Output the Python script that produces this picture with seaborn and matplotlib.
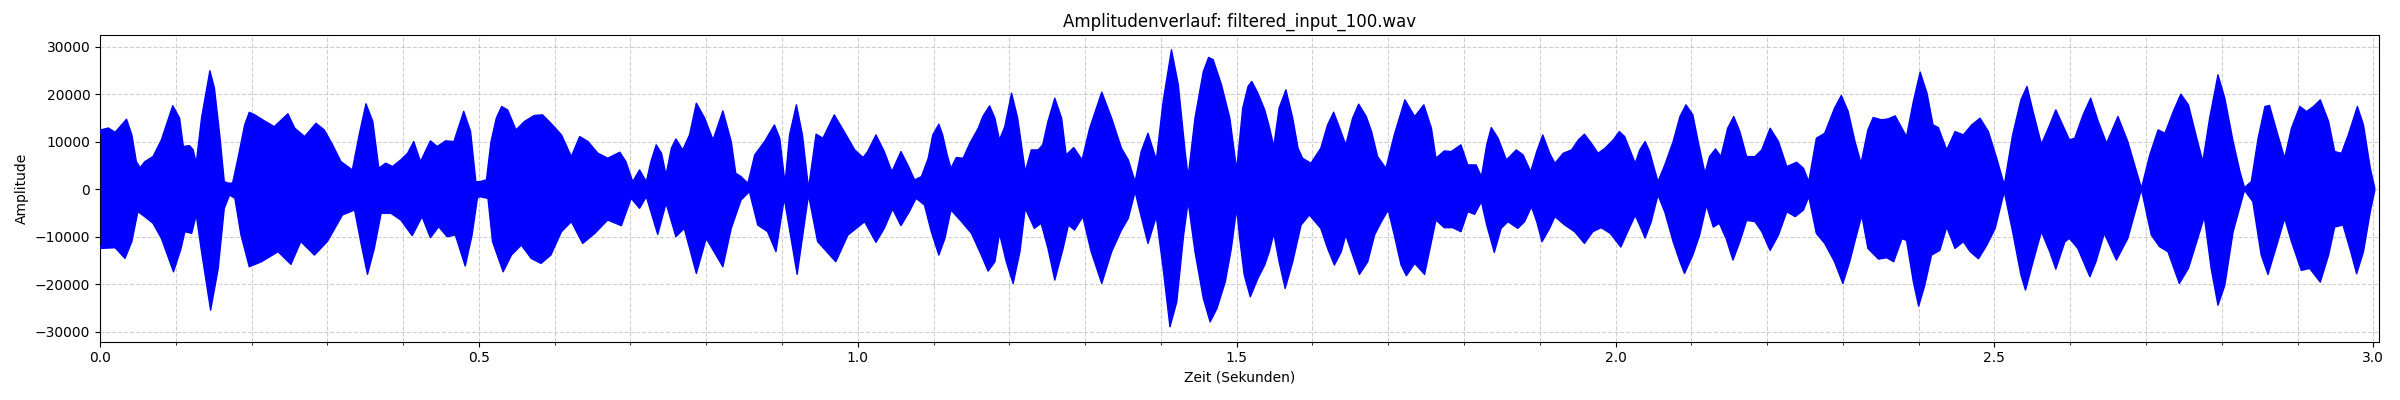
import numpy as np
import matplotlib
matplotlib.use("Agg")
import matplotlib.pyplot as plt
from matplotlib.ticker import MultipleLocator
import seaborn as sns

# Upper envelope of the waveform (time in s, amplitude)
upper_time = [
    0.000, 0.001, 0.011, 0.020, 0.035, 0.042, 0.048, 0.053, 0.059, 0.070, 0.081, 0.096, 0.105, 0.110,
    0.118, 0.123, 0.127, 0.134, 0.145, 0.151, 0.158, 0.164, 0.169, 0.175, 0.182, 0.191, 0.197, 0.204,
    0.217, 0.230, 0.248, 0.257, 0.270, 0.285, 0.296, 0.307, 0.318, 0.333, 0.342, 0.351, 0.360, 0.368,
    0.377, 0.386, 0.397, 0.406, 0.414, 0.423, 0.436, 0.445, 0.456, 0.467, 0.480, 0.489, 0.496,
    0.501, 0.510, 0.516, 0.523, 0.530, 0.538, 0.549, 0.560, 0.573, 0.584, 0.595, 0.609, 0.622, 0.633,
    0.644, 0.657, 0.670, 0.686, 0.694, 0.703, 0.712, 0.721, 0.727, 0.734, 0.741, 0.747, 0.754, 0.760,
    0.769, 0.778, 0.787, 0.798, 0.809, 0.822, 0.833, 0.839, 0.846, 0.855, 0.864, 0.877, 0.890, 0.897,
    0.904, 0.910, 0.919, 0.927, 0.935, 0.945, 0.954, 0.969, 0.982, 0.996,
    1.007, 1.013, 1.024, 1.035, 1.045, 1.057, 1.066, 1.075, 1.084, 1.093, 1.099, 1.107, 1.112, 1.118,
    1.123, 1.130, 1.139, 1.148, 1.159, 1.165, 1.174, 1.181, 1.187, 1.194, 1.203, 1.211, 1.221, 1.229,
    1.238, 1.244, 1.251, 1.260, 1.269, 1.275, 1.285, 1.296, 1.306, 1.322, 1.335, 1.348, 1.357, 1.366,
    1.374, 1.383, 1.394, 1.403, 1.414, 1.423, 1.432, 1.436, 1.445, 1.456, 1.463, 1.469, 1.480, 1.491,
    1.500, 1.508, 1.515, 1.520, 1.528, 1.537, 1.543, 1.549, 1.556, 1.565, 1.574, 1.581, 1.587, 1.598,
    1.611, 1.620, 1.628, 1.636, 1.644, 1.653, 1.661, 1.671, 1.678, 1.686, 1.697, 1.708, 1.722, 1.735,
    1.747, 1.757, 1.763, 1.774, 1.783, 1.796, 1.805, 1.816, 1.823, 1.830, 1.836, 1.845, 1.856, 1.869,
    1.878, 1.888, 1.896, 1.904, 1.913, 1.920, 1.931, 1.942, 1.951, 1.959, 1.968, 1.977, 1.986, 1.997,
    2.005, 2.012, 2.019, 2.026, 2.032, 2.039, 2.045, 2.051, 2.056, 2.065, 2.076, 2.085, 2.093, 2.102,
    2.109, 2.118, 2.124, 2.132, 2.139, 2.148, 2.156, 2.164, 2.173, 2.184, 2.193, 2.204, 2.215, 2.226,
    2.239, 2.248, 2.255, 2.265, 2.276, 2.289, 2.298, 2.307, 2.316, 2.324, 2.333, 2.340, 2.351, 2.360,
    2.369, 2.378, 2.384, 2.393, 2.402, 2.411, 2.419, 2.426, 2.437, 2.448, 2.459, 2.470, 2.481, 2.492,
    2.503, 2.513, 2.524, 2.535, 2.543, 2.551, 2.562, 2.573, 2.581, 2.593, 2.599, 2.606, 2.617, 2.627,
    2.637, 2.648, 2.663, 2.676, 2.685, 2.694, 2.705, 2.716, 2.725, 2.736, 2.746, 2.756, 2.767, 2.775,
    2.784, 2.795, 2.804, 2.815, 2.824, 2.830, 2.839, 2.848, 2.857, 2.863, 2.874, 2.883, 2.892, 2.903,
    2.912, 2.921, 2.930, 2.941, 2.949, 2.958, 2.967, 2.979, 2.987, 2.996, 3.002,
]
upper_amp = [
    11800, 12500, 12900, 12000, 14750, 11450, 5800, 4570, 5800, 6900, 10400, 17600, 15000, 9000,
    9200, 8300, 5500, 15000, 24950, 21300, 11450, 1600, 1300, 1300, 6500, 13600, 16200, 15700,
    14400, 13200, 15900, 12860, 11100, 13900, 12500, 9350, 5830, 4080, 11450, 18000, 14270, 4430,
    5500, 4800, 6200, 7600, 10050, 5830, 10200, 9000, 10200, 10050, 16400, 12200, 1600,
    1600, 2000, 10050, 14970, 17430, 16700, 12500, 14270, 15530, 15670, 13900, 11450, 6890, 11100,
    10050, 7600, 6540, 7800, 5830, 1600, 4080, 1600, 5830, 9350, 7600, 3020, 8640, 10600,
    8290, 11450, 18130, 14970, 10400, 16500, 10050, 3370, 2670, 1260, 7240, 10050, 13560, 10750,
    1260, 11450, 17780, 11450, 200, 11600, 10750, 15670, 12160, 8290,
    6680, 7940, 11450, 7940, 3720, 7940, 5130, 1970, 2670, 6540, 11450, 13700, 11450, 7240,
    4430, 6680, 6540, 9700, 12860, 15320, 17570, 14970, 10400, 13200, 20240, 14970, 3720, 8290,
    8290, 9350, 14270, 19180, 14970, 7240, 8780, 6180, 12860, 20450, 14970, 8640, 6180, 1600,
    7940, 11800, 6180, 18480, 29370, 22000, 7940, 2670, 14970, 24800, 27760, 27270, 22000, 14970,
    4080, 17080, 21640, 22700, 20240, 16730, 13210, 9000, 17080, 20940, 14970, 8640, 6540, 5480,
    8640, 13560, 16230, 12860, 9350, 14970, 17920, 15320, 12160, 6890, 4430, 11450, 18830, 15320,
    17780, 12860, 6540, 8080, 7940, 9350, 5130, 5130, 2670, 9350, 13000, 10750, 6180, 8290,
    7240, 3720, 7940, 11450, 7590, 5480, 7590, 8290, 10400, 11600, 9700, 7590, 8640, 10400,
    12160, 11100, 8290, 5480, 8290, 10050, 7940, 4430, 1620, 5130, 10050, 15320, 17780, 15670,
    10050, 3370, 6890, 8500, 6890, 12860, 15320, 12160, 6890, 6890, 8290, 12860, 10050, 4780,
    5690, 4430, 1620, 10750, 11800, 17080, 19750, 16370, 10050, 5480, 12500, 15110, 14620, 14830,
    15460, 12860, 11100, 18480, 24670, 20240, 13560, 13000, 8290, 12160, 11450, 13560, 14970, 12160,
    6540, 900, 11450, 18830, 21640, 16370, 9490, 13560, 16730, 12510, 10400, 10750, 15670, 19180,
    14270, 9700, 15320, 10050, 5130, 210, 7240, 12510, 11800, 16370, 20030, 17780, 10750, 5830,
    14970, 24100, 19180, 10050, 3720, 350, 1620, 10750, 17430, 17640, 11450, 6540, 12860, 17430,
    16370, 17430, 18830, 14270, 7940, 7590, 11450, 17430, 13560, 4430, 210,
]

# Lower envelope of the waveform (time in s, amplitude)
lower_time = [
    0.000, 0.001, 0.020, 0.033, 0.042, 0.050, 0.059, 0.070, 0.081, 0.097, 0.107, 0.112, 0.121, 0.127,
    0.134, 0.146, 0.156, 0.164, 0.171, 0.178, 0.186, 0.197, 0.213, 0.235, 0.252, 0.265, 0.283, 0.300,
    0.320, 0.336, 0.344, 0.353, 0.362, 0.371, 0.384, 0.397, 0.412, 0.425, 0.436, 0.447, 0.458, 0.469,
    0.482, 0.491, 0.498,
    0.501, 0.512, 0.518, 0.532, 0.543, 0.556, 0.569, 0.582, 0.595, 0.609, 0.622, 0.637, 0.653, 0.670,
    0.688, 0.701, 0.712, 0.721, 0.736, 0.747, 0.760, 0.771, 0.787, 0.800, 0.822, 0.833, 0.846, 0.857,
    0.868, 0.881, 0.892, 0.903, 0.920, 0.935, 0.947, 0.971, 0.987,
    1.009, 1.024, 1.035, 1.046, 1.057, 1.068, 1.077, 1.088, 1.097, 1.107, 1.115, 1.123, 1.137, 1.150,
    1.163, 1.172, 1.181, 1.187, 1.196, 1.205, 1.214, 1.221, 1.233, 1.242, 1.251, 1.260, 1.271, 1.278,
    1.286, 1.297, 1.308, 1.322, 1.335, 1.348, 1.357, 1.366, 1.374, 1.383, 1.394, 1.403, 1.412, 1.421,
    1.430, 1.436, 1.445, 1.456, 1.465, 1.474, 1.485, 1.493, 1.500,
    1.504, 1.510, 1.518, 1.528, 1.537, 1.543, 1.549, 1.556, 1.564, 1.574, 1.585, 1.596, 1.611, 1.620,
    1.629, 1.638, 1.644, 1.653, 1.662, 1.673, 1.682, 1.691, 1.700, 1.708, 1.717, 1.724, 1.735, 1.748,
    1.757, 1.763, 1.774, 1.785, 1.796, 1.805, 1.814, 1.823, 1.830, 1.840, 1.849, 1.858, 1.871, 1.880,
    1.889, 1.896, 1.903, 1.913, 1.920, 1.933, 1.946, 1.959, 1.970, 1.981, 1.993,
    2.007, 2.016, 2.026, 2.032, 2.039, 2.047, 2.056, 2.065, 2.076, 2.085, 2.091, 2.102, 2.111, 2.120,
    2.129, 2.137, 2.146, 2.155, 2.164, 2.173, 2.184, 2.193, 2.204, 2.215, 2.226, 2.237, 2.248, 2.255,
    2.265, 2.276, 2.289, 2.300, 2.309, 2.318, 2.325, 2.333, 2.347, 2.358, 2.367, 2.378, 2.384, 2.393,
    2.400, 2.408, 2.417, 2.428, 2.437, 2.448, 2.459, 2.468, 2.479, 2.490, 2.501,
    2.513, 2.524, 2.535, 2.541, 2.551, 2.562, 2.573, 2.581, 2.593, 2.599, 2.610, 2.626, 2.634, 2.645,
    2.661, 2.676, 2.694, 2.707, 2.718, 2.729, 2.744, 2.756, 2.767, 2.777, 2.786, 2.795, 2.804, 2.815,
    2.830, 2.841, 2.852, 2.861, 2.874, 2.883, 2.892, 2.905, 2.916, 2.930, 2.941, 2.949, 2.960, 2.969,
    2.978, 2.987, 2.996, 3.002,
]
lower_amp = [
    -12000, -12440, -12300, -14550, -11000, -4700, -5760, -7170, -10330, -17360, -12440, -8920, -9280, -5400,
    -13140, -25440, -16650, -4000, -1200, -1900, -9600, -16300, -15250, -13140, -15800, -11000, -13840, -11000,
    -5400, -4360, -11000, -17900, -12440, -5060, -5060, -6470, -9770, -5760, -10190, -7870, -9980, -9630,
    -16160, -9630, -1900,
    -1550, -1900, -11000, -17360, -13840, -11740, -14550, -15600, -13840, -8920, -6820, -11390, -9280, -6470,
    -7660, -1900, -4000, -1550, -9490, -2950, -9980, -8220, -17710, -10330, -16300, -8220, -2250, -490,
    -7520, -8920, -13140, -1900, -17900, -1200, -11000, -15250, -9630,
    -6820, -11170, -8220, -4150, -7660, -4710, -1900, -3300, -8920, -13840, -10330, -4360, -6820, -9280,
    -13840, -17220, -15250, -9280, -15250, -19820, -13140, -4000, -8220, -7170, -12440, -19110, -12440, -7520,
    -8570, -5760, -13140, -19820, -13140, -8570, -6110, -490, -5760, -11390, -5760, -16650, -28950, -23680,
    -9630, -2600, -13140, -22980, -27900, -25090, -19470, -12440, -4000,
    -10330, -18060, -22630, -18760, -15950, -13140, -9280, -15250, -20870, -15250, -7520, -5410, -8220, -12440,
    -15950, -13140, -9630, -13840, -17920, -15250, -9630, -6820, -4360, -9630, -15950, -18200, -15600, -17920,
    -11030, -6470, -8080, -8080, -8920, -4710, -5270, -2600, -7520, -13280, -8220, -6820, -8220, -6820,
    -3650, -6820, -11030, -8220, -5760, -7520, -8920, -11390, -8920, -8080, -9280,
    -12160, -8920, -5480, -7590, -10260, -6890, -1200, -4780, -11030, -15250, -17710, -13840, -9630, -3370,
    -7940, -7170, -10400, -14900, -11030, -6540, -6820, -8920, -12860, -9630, -4710, -5760, -4360, -1550,
    -9280, -11390, -15250, -19820, -15250, -9630, -5480, -12440, -14690, -14410, -15250, -10400, -10750, -19470,
    -24600, -20240, -13840, -12860, -7940, -12440, -11030, -13140, -14620, -11740, -8220,
    -490, -8920, -18060, -21220, -15250, -8920, -13140, -16800, -11030, -10330, -12440, -18410, -15250, -9280,
    -14900, -10330, 0, -9630, -12090, -13140, -19820, -16650, -11030, -5760, -16650, -24390, -20240, -8920,
    -200, -2600, -13840, -17920, -11030, -6110, -11030, -17080, -16650, -19540, -13840, -7940, -7520, -12440,
    -17780, -13140, -4710, -200,
]

title_text = "Amplitudenverlauf: filtered_input_100.wav"
x_label = "Zeit (Sekunden)"
y_label = "Amplitude"

fig = plt.figure(figsize=(24, 4), dpi=100)
ax = fig.add_axes([100 / 2400, 1 - 341.7 / 400, 2279 / 2400, (341.7 - 35) / 400])

ax.set_axisbelow(True)
ax.grid(True, which="both", linestyle="--", alpha=0.6)

poly_x = np.concatenate([upper_time, lower_time[::-1]])
poly_y = np.concatenate([upper_amp, lower_amp[::-1]])
ax.fill(poly_x, poly_y, color="blue", linewidth=0, zorder=2)

sns.lineplot(x=upper_time, y=upper_amp, color="blue", linewidth=1.0, ax=ax,
             estimator=None, sort=False, zorder=3)
sns.lineplot(x=lower_time, y=lower_amp, color="blue", linewidth=1.0, ax=ax,
             estimator=None, sort=False, zorder=3)

ax.set_xlim(0, 3.0075)
ax.set_ylim(-32080, 32480)
ax.xaxis.set_major_locator(MultipleLocator(0.5))
ax.xaxis.set_minor_locator(MultipleLocator(0.1))
ax.yaxis.set_major_locator(MultipleLocator(10000))

ax.set_title(title_text)
ax.set_xlabel(x_label)
ax.set_ylabel(y_label)

fig.savefig("out.png", dpi=100)
